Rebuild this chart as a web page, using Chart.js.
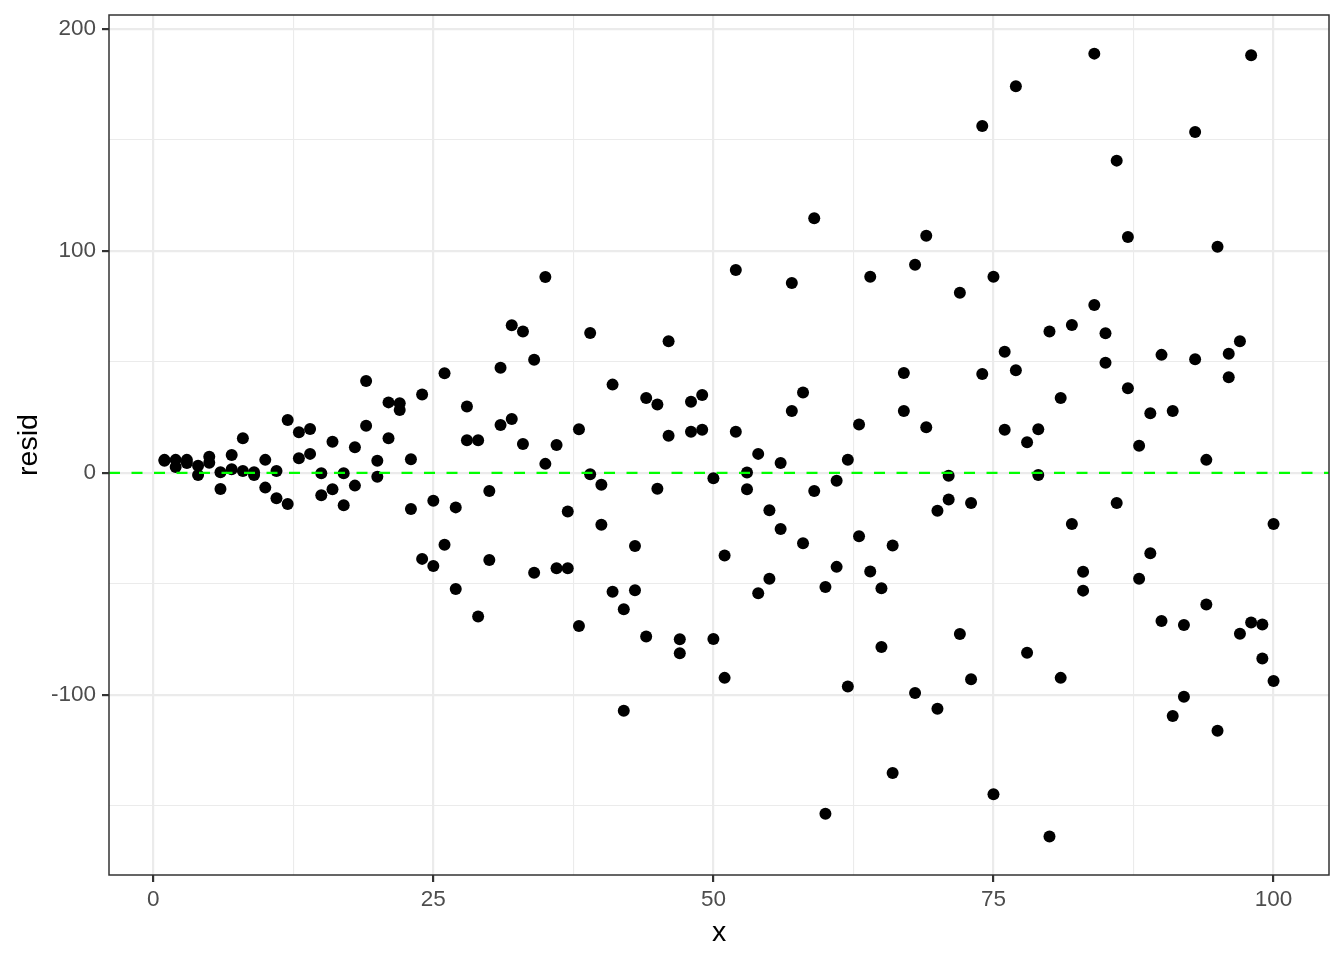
<!DOCTYPE html>
<html lang="en">
<head>
    <meta charset="UTF-8">
    <title>Residuals vs x</title>
    <script src="https://cdn.jsdelivr.net/npm/chart.js"></script>
    <style>
        body { margin: 0; background: #fff; }
        #wrap { width: 1344px; height: 960px; }
    </style>
</head>
<body>
    <div id="wrap"><canvas id="residChart" width="1344" height="960"></canvas></div>

    <script>
        // x positions (two residuals per x)
        const xValues = [1,2,3,4,5,6,7,8,9,10,11,12,13,14,15,16,17,18,19,20,
            21,22,23,24,25,26,27,28,29,30,31,32,33,34,35,36,37,38,39,40,
            41,42,43,44,45,46,47,48,49,50,51,52,53,54,55,56,57,58,59,60,
            61,62,63,64,65,66,67,68,69,70,71,72,73,74,75,76,77,78,79,80,
            81,82,83,84,85,86,87,88,89,90,91,92,93,94,95,96,97,98,99,100];

        // first residual at each x
        const residA = [5.9,5.9,5.9,3.2,7.3,0.3,8.1,15.6,-0.9,5.9,
            0.9,23.9,18.3,19.8,-0.1,14.1,-0.1,11.6,41.4,5.5,
            31.8,31.4,6.2,35.4,-12.5,44.9,-15.5,29.9,14.7,-8.1,
            47.4,66.5,63.7,51,88.3,12.6,-17.4,19.7,63.1,-5.3,
            39.8,-61.4,-32.9,33.8,30.8,59.3,-74.9,32.1,35.1,-2.4,
            -37.2,91.4,0.2,8.6,-16.8,4.5,85.6,36.2,114.7,-51.4,
            -3.5,6,21.8,88.4,-51.9,-32.7,45,93.8,106.9,-17,
            -1.2,81.2,-13.5,156.3,88.4,54.6,174.2,13.8,19.7,63.7,
            33.8,66.7,-44.5,188.9,62.9,140.7,106.3,12.3,26.9,53.2,
            27.9,-68.5,153.6,5.9,101.9,53.7,59.3,188.2,-68.3,-23];

        // second residual at each x
        const residB = [5.5,2.7,4.5,-0.9,4.6,-7.2,1.7,0.9,0.3,-6.6,
            -11.4,-14,6.6,8.6,-10,-7.3,-14.5,-5.7,21.3,-1.7,
            15.6,28.4,-16.2,-38.7,-41.9,-32.3,-52.3,14.7,-64.7,-39.2,
            21.6,24.3,13.1,-44.9,4.1,-42.9,-42.9,-68.9,-0.6,-23.3,
            -53.5,-107.1,-52.8,-73.7,-7.1,16.8,-81.2,18.6,19.5,-74.8,
            -92.3,18.6,-7.3,-54.2,-47.7,-25.2,27.9,-31.7,-8.1,-153.5,
            -42.3,-96.2,-28.5,-44.4,-78.4,-135.1,27.9,-99.1,20.6,-106.2,
            -11.9,-72.5,-92.9,44.6,-144.7,19.5,46.3,-81,-0.9,-163.8,
            -92.3,-23,-53,75.7,49.7,-13.5,38.2,-47.7,-36.2,-66.7,
            -109.5,-100.8,51.2,-59.3,-116.1,43.1,-72.4,-67.4,-83.6,-93.7];

        const xTicks = [0, 12.5, 25, 37.5, 50, 62.5, 75, 87.5, 100];
        const xLabels = ['0', '25', '50', '75', '100'];
        const yTicks = [-150, -100, -50, 0, 50, 100, 150, 200];
        const yLabels = ['-100', '0', '100', '200'];

        const points = [];
        xValues.forEach((x, i) => {
            points.push({ x: x, y: residA[i] });
            points.push({ x: x, y: residB[i] });
        });

        const isMajor = (v, labels) => labels.includes(String(v));
        const FONT = 'Liberation Sans, Arial, sans-serif';

        // panel border + dashed zero line
        const panelPlugin = {
            id: 'panel',
            afterDatasetsDraw(chart) {
                const { ctx, chartArea: a, scales } = chart;
                const y0 = scales.y.getPixelForValue(0);
                ctx.save();
                ctx.strokeStyle = '#00ff00';
                ctx.lineWidth = 2.2;
                ctx.setLineDash([11, 11.5]);
                ctx.beginPath();
                ctx.moveTo(a.left, y0);
                ctx.lineTo(a.right, y0);
                ctx.stroke();
                ctx.setLineDash([]);
                ctx.strokeStyle = '#333333';
                ctx.lineWidth = 1.5;
                ctx.strokeRect(a.left, a.top, a.right - a.left, a.bottom - a.top);
                ctx.restore();
            }
        };

        const gridOpts = (labels) => ({
            color: '#ebebeb',
            lineWidth: c => isMajor(c.tick.value, labels) ? 2.2 : 1.1,
            tickColor: c => isMajor(c.tick.value, labels) ? '#333333' : 'rgba(0,0,0,0)',
            tickWidth: 2.2,
            tickLength: 7,
            drawTicks: true
        });

        const ctx = document.getElementById('residChart').getContext('2d');
        new Chart(ctx, {
            type: 'scatter',
            data: {
                datasets: [{
                    label: 'resid',
                    data: points,
                    backgroundColor: '#000000',
                    borderWidth: 0,
                    pointRadius: 6,
                    pointHoverRadius: 6
                }]
            },
            options: {
                responsive: false,
                animation: false,
                layout: { padding: { top: 15, right: 15, left: 0, bottom: 0 } },
                plugins: { legend: { display: false }, tooltip: { enabled: false } },
                scales: {
                    x: {
                        type: 'linear',
                        min: -3.95,
                        max: 104.95,
                        afterBuildTicks: s => { s.ticks = xTicks.map(v => ({ value: v })); },
                        afterFit: s => { s.height = 85; s.paddingLeft = 0; s.paddingRight = 0; },
                        grid: gridOpts(xLabels),
                        border: { display: false },
                        ticks: {
                            autoSkip: false,
                            maxRotation: 0,
                            padding: 4,
                            color: '#4d4d4d',
                            font: { family: FONT, size: 22.5 },
                            callback: v => isMajor(v, xLabels) ? String(v) : ''
                        },
                        title: {
                            display: true,
                            text: 'x',
                            color: '#000000',
                            padding: { top: 0, bottom: 13 },
                            font: { family: FONT, size: 28.5, lineHeight: 1 }
                        }
                    },
                    y: {
                        type: 'linear',
                        min: -181.1,
                        max: 206.3,
                        afterBuildTicks: s => { s.ticks = yTicks.map(v => ({ value: v })); },
                        afterFit: s => { s.width = 109; s.paddingTop = 0; s.paddingBottom = 0; },
                        grid: gridOpts(yLabels),
                        border: { display: false },
                        ticks: {
                            autoSkip: false,
                            padding: 6,
                            color: '#4d4d4d',
                            font: { family: FONT, size: 22.5 },
                            callback: v => isMajor(v, yLabels) ? String(v) : ''
                        },
                        title: {
                            display: true,
                            text: 'resid',
                            color: '#000000',
                            padding: { top: 15, bottom: 0 },
                            font: { family: FONT, size: 28.5, lineHeight: 1 }
                        }
                    }
                }
            },
            plugins: [panelPlugin]
        });
    </script>
</body>
</html>
